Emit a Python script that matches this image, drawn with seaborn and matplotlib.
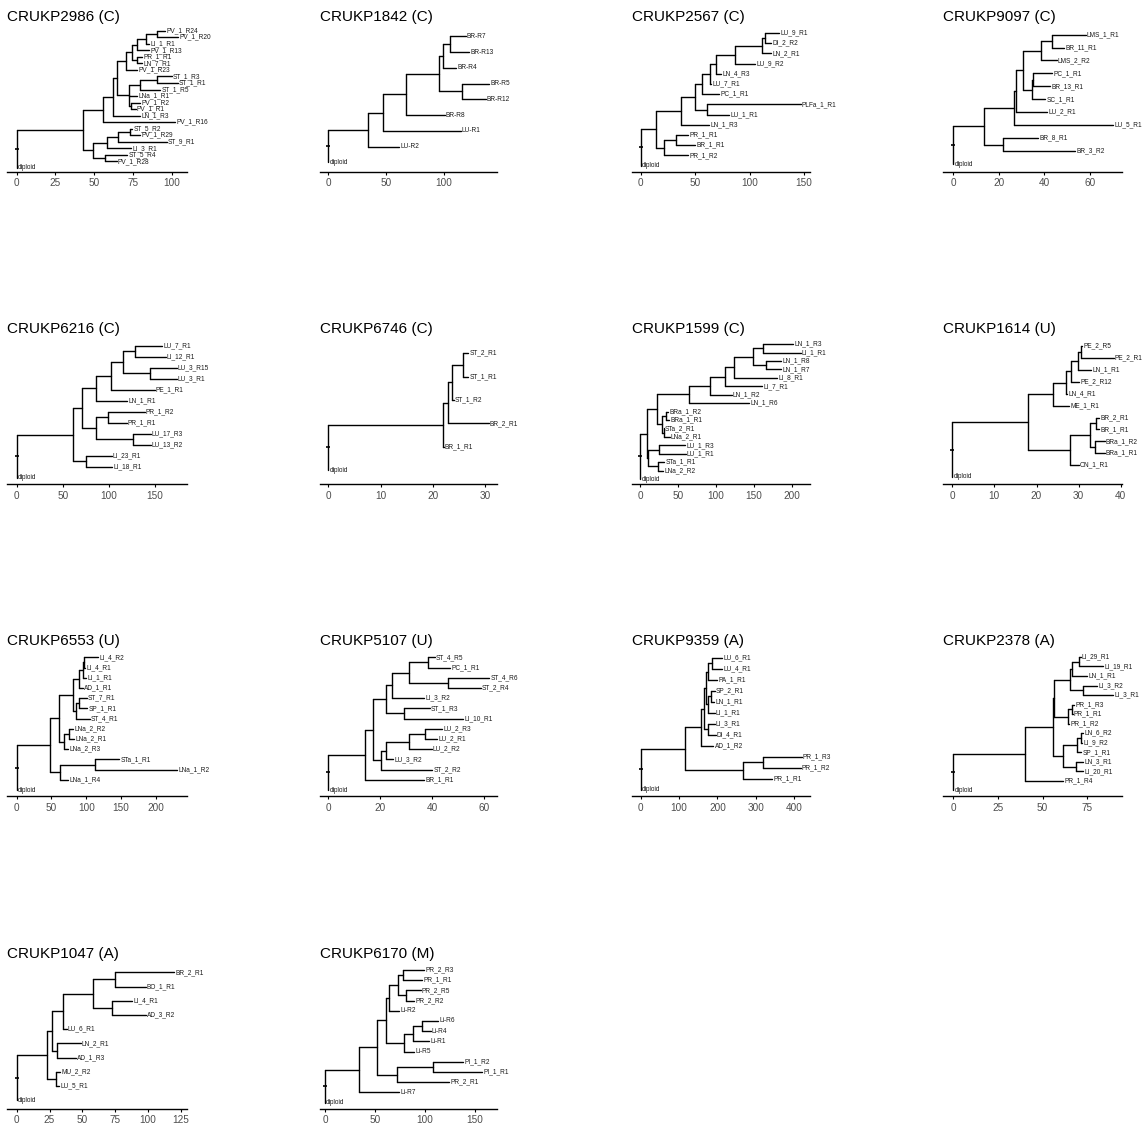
import numpy as np
import pandas as pd
import matplotlib
matplotlib.use("Agg")
import matplotlib.pyplot as plt
from matplotlib.ticker import MultipleLocator
import seaborn as sns

# Patient trees in Newick form; the number after ':' is the node depth
# (cumulative distance from the root), children listed top to bottom.
PATIENTS = [
    "CRUKP2986 (C)", "CRUKP1842 (C)", "CRUKP2567 (C)", "CRUKP9097 (C)",
    "CRUKP6216 (C)", "CRUKP6746 (C)", "CRUKP1599 (C)", "CRUKP1614 (U)",
    "CRUKP6553 (U)", "CRUKP5107 (U)", "CRUKP9359 (A)", "CRUKP2378 (A)",
    "CRUKP1047 (A)", "CRUKP6170 (M)",
]

TREE_2986 = ("((((((((((PV_1_R24:95.7,PV_1_R20:104):90.5,LI_1_R1:85.5):83.3,PV_1_R13:85.5):77.4,"
             "(PR_1_R1:80.9,LN_7_R1:80.9):77.4):74.2,PV_1_R23:77.6):70.5,(((ST_1_R3:100,ST_1_R1:104):90.3,"
             "ST_1_R5:92.7):79.5,LNa_1_R1:77.8,(PV_1_R2:79.5,PV_1_R1:76.8):73.5):72.7):64.9,LN_1_R3:79.6):62.3,"
             "PV_1_R16:102):55.9,((((ST_5_R2:74.5,PV_1_R29:79.6):73.1,ST_9_R1:96.8):65.5,LI_3_R1:74):58,"
             "(ST_5_R4:71.4,PV_1_R28:64.5):57):49.4):43,diploid:0):0")
TREE_1842 = ("(((((((BR-R7:118.7,BR-R13:121.9):105.5,BR-R4:110.7):98.8,(BR-R5:138.9,BR-R12:136):115.3):95.7,"
             "BR-R8:100.6):67.1,LU-R1:114.4):47,LU-R2:61.1):34.6,diploid:0):0")
TREE_2567 = ("((((((((((LU_9_R1:127,DI_2_R2:119.7):114,LN_2_R1:119.7):111,LU_9_R2:105):86.6,LN_4_R3:74):68.9,"
             "LU_7_R1:64.5):63.7,PC_1_R1:72):56,(PLFa_1_R1:147,LU_1_R1:81.4):61.2):49.9,LN_1_R3:63):37,"
             "((PR_1_R1:43.8,BR_1_R1:50.2):32.1,PR_1_R2:43.8):21.4):14.1,diploid:0):0")
TREE_9097 = ("(((((((LMS_1_R1:58.2,BR_11_R1:48.7):43.3,LMS_2_R2:45.5):38.6,((PC_1_R1:43.6,BR_13_R1:42.6):35,"
             "SC_1_R1:40.4):34.5):30.6,LU_2_R1:41.4):27.7,LU_5_R1:70.4):26.8,(BR_8_R1:37.5,BR_3_R2:53.6):21.8):13.8,"
             "diploid:0):0")
TREE_6216 = ("(((((((LU_7_R1:158,LI_12_R1:161.5):128.3,(LU_3_R15:173.5,LU_3_R1:173.5):144.6):115.6,PE_1_R1:149.6):102.3,"
             "LN_1_R1:120):86,((PR_1_R2:138.8,PR_1_R1:119.3):98.7,(LU_17_R3:145.3,LU_13_R2:145.3):126.5):85.7):70.5,"
             "(LI_23_R1:103,LI_18_R1:103.7):75.2):60.7,diploid:0):0")
TREE_6746 = "(((((ST_2_R1:26.7,ST_1_R1:26.7):25.7,ST_1_R2:23.9):23.7,BR_2_R1:30.6):22.9,BR_1_R1:22):21.8,diploid:0):0"
TREE_1599 = ("(((((((((LN_1_R3:202,LI_1_R1:212):162.6,(LN_1_R8:186,LN_1_R7:186):165.7):148.6,LI_8_R1:181):124.4,"
             "LI_7_R1:161):112,LN_1_R2:121):92.3,LN_1_R6:143.7):65,((BRa_1_R2:37.4,BRa_1_R1:38.2):33.8,"
             "(STa_2_R1:30.3,LNa_2_R1:39):31.6):28.6):22,((LU_1_R3:59.3,LU_1_R1:60.2):25.5,"
             "(STa_1_R1:31.6,LNa_2_R2:30.3):23.3):10.5):9.5,diploid:0):0")
TREE_1614 = ("(((((((PE_2_R5:30.8,PE_2_R1:38.3):30.5,LN_1_R1:32.9):29.9,PE_2_R12:30.2):28.1,LN_4_R1:27.2):26.9,"
             "ME_1_R1:27.8):23.9,(((BR_2_R1:34.9,BR_1_R1:34.9):34.2,(BRa_1_R2:36.2,BRa_1_R1:36.2):34):32.8,"
             "ON_1_R1:30):27.9):17.9,diploid:0):0")
TREE_6553 = ("(((((((LI_4_R2:117,LI_4_R1:98.3):96.9,LI_1_R1:100.2):95,AD_1_R1:95.4):89.7,((ST_7_R1:100.7,"
             "SP_1_R1:101.7):89.2,ST_4_R1:105):85.4):80.6,((LNa_2_R2:81,LNa_2_R1:82.5):75.3,LNa_2_R3:73.9):68):61.4,"
             "((STa_1_R1:147.2,LNa_1_R2:231):112.7,LNa_1_R4:74.3):62.4):48,diploid:0):0")
TREE_5107 = ("(((((((ST_4_R5:41,PC_1_R1:46.9):38.3,(ST_4_R6:62,ST_2_R4:58.7):46.3):31.2,LI_3_R2:36.9):24.4,"
             "(ST_1_R3:39,LI_10_R1:51.9):29.2):22.1,((((LU_2_R3:43.9,LU_2_R1:42):37.3,LU_2_R2:39.8):31.2,"
             "LU_3_R2:24.9):22.1,ST_2_R2:40.1):20.2):17.1,BR_1_R1:36.9):14.1,diploid:0):0")
TREE_9359 = ("(((((((LU_6_R1:212.6,LU_4_R1:212.6):184.8,PA_1_R1:199.6):176,((SP_2_R1:192.6,LN_1_R1:190.9):183,"
             "LI_1_R1:192.6):176):170,(LI_3_R1:192.6,DI_4_R1:195.2):176):164.9,AD_1_R2:189.2):157,"
             "((PR_1_R3:419,PR_1_R2:416.5):319.3,PR_1_R1:342.7):267.2):115.4,diploid:0):0")
TREE_2378 = ("(((((((LI_29_R1:71.2,LI_19_R1:83.8):70.3,LN_1_R1:75):66.2,(LI_3_R2:80.6,LI_3_R1:89.6):72.8):65.3,"
             "((PR_1_R3:67.6,PR_1_R1:66.8):66.6,PR_1_R2:65):64):56.3,(((LN_6_R2:72.6,LI_9_R2:72.2):71.5,"
             "SP_1_R1:71.6):69.4,(LN_3_R1:72.6,LI_20_R1:72.6):68.5):61.2):55.5,PR_1_R4:61.6):40.1,diploid:0):0")
TREE_1047 = ("((((((BR_2_R1:120,BO_1_R1:98.3):75,(LI_4_R1:87.7,AD_3_R2:98.3):72.9):57.9,LU_6_R1:38.1):35.6,"
             "(LN_2_R1:48.8,AD_1_R3:45):31):26.7,(MU_2_R2:33,LU_5_R1:32.3):30):22.9,diploid:0):0")
TREE_6170 = ("(((((((PR_2_R3:99,PR_1_R1:97.3):78.3,(PR_2_R5:95.7,PR_2_R2:89):81):73.3,Li-R2:74):64,"
             "(((Li-R6:113.3,Li-R4:105.7):96.7,Li-R1:104):88.3,Li-R5:89):79.3):60.7,((PI_1_R2:138.3,"
             "PI_1_R1:157.3):108.3,PR_2_R1:124):71.7):51.7,Li-R7:74):34,diploid:0):0")

TREES = [TREE_2986, TREE_1842, TREE_2567, TREE_9097, TREE_6216, TREE_6746, TREE_1599,
         TREE_1614, TREE_6553, TREE_5107, TREE_9359, TREE_2378, TREE_1047, TREE_6170]

TICK_STEPS = [25, 50, 50, 20, 50, 10, 50, 10, 50, 20, 100, 25, 25, 50]
X_LIMITS = [(-6.3, 109.9), (-7.2, 145.8), (-8.0, 155.5), (-4.4, 74.2),
            (-10.5, 184.7), (-1.6, 32.2), (-10.6, 224.3), (-2.2, 40.3),
            (-14.0, 245.0), (-3.2, 65.0), (-22.7, 441.0), (-5.8, 94.4),
            (-7.4, 129.8), (-5.0, 172.0)]


def parse_newick(text):
    s = "".join(text.split()).rstrip(";")
    pos = 0

    def node():
        nonlocal pos
        children = []
        if s[pos] == "(":
            pos += 1
            children.append(node())
            while s[pos] == ",":
                pos += 1
                children.append(node())
            assert s[pos] == ")"
            pos += 1
        start = pos
        while pos < len(s) and s[pos] not in ":,()":
            pos += 1
        name = s[start:pos]
        depth = 0.0
        if pos < len(s) and s[pos] == ":":
            pos += 1
            start = pos
            while pos < len(s) and s[pos] not in ",()":
                pos += 1
            depth = float(s[start:pos])
        return {"name": name, "x": depth, "children": children}

    root = node()
    assert pos == len(s)
    return root


def layout(root):
    leaves = []

    def collect(n):
        if not n["children"]:
            leaves.append(n)
        for c in n["children"]:
            collect(c)

    collect(root)
    n_leaf = len(leaves)
    for i, lf in enumerate(leaves):
        lf["y"] = float(n_leaf - i)

    def set_y(n):
        if n["children"]:
            for c in n["children"]:
                set_y(c)
            n["y"] = float(np.mean([c["y"] for c in n["children"]]))

    set_y(root)
    rows = []
    seg = 0

    def walk(n):
        nonlocal seg
        if not n["children"]:
            return
        ys = [c["y"] for c in n["children"]]
        rows.extend([(seg, n["x"], min(ys)), (seg, n["x"], max(ys))])
        seg += 1
        for c in n["children"]:
            if c["x"] > n["x"]:
                rows.extend([(seg, n["x"], c["y"]), (seg, c["x"], c["y"])])
                seg += 1
            walk(c)

    walk(root)
    return pd.DataFrame(rows, columns=["seg", "x", "y"]), leaves, n_leaf


sns.set_theme(style="white")
plt.rcParams["font.family"] = ["Liberation Sans", "DejaVu Sans"]

W, H = 1146, 1126
fig = plt.figure(figsize=(W / 100, H / 100), dpi=100)

col_boxes = [(7, 187), (320, 497), (632, 810), (943, 1122)]
row_tops = [26.8, 339.1, 651.2, 963.8]
panel_h = 145

for k, (title, tree_text) in enumerate(zip(PATIENTS, TREES)):
    r, c = divmod(k, 4)
    x0, x1 = col_boxes[c]
    top = row_tops[r]
    ax = fig.add_axes([x0 / W, 1 - (top + panel_h) / H, (x1 - x0) / W, panel_h / H])

    root = parse_newick(tree_text)
    segs, leaves, n_leaf = layout(root)

    sns.lineplot(data=segs, x="x", y="y", units="seg", estimator=None, sort=False,
                 color="black", linewidth=1.0, ax=ax, legend=False)
    ax.plot([0], [root["y"]], marker="_", ms=2.5, mew=1.2, color="black")

    for lf in leaves:
        ax.annotate(lf["name"], xy=(lf["x"], lf["y"]), xytext=(0.9, 0),
                    textcoords="offset points", ha="left", va="center",
                    fontsize=4.7, color="#1a1a1a", annotation_clip=False)

    ax.set_xlim(*X_LIMITS[k])
    ax.set_ylim(0.4, n_leaf + 0.6)
    ax.xaxis.set_major_locator(MultipleLocator(TICK_STEPS[k]))
    ax.set_yticks([])
    ax.set_xlabel("")
    ax.set_ylabel("")
    for side in ("top", "right", "left"):
        ax.spines[side].set_visible(False)
    ax.spines["bottom"].set_color("black")
    ax.spines["bottom"].set_linewidth(1.0)
    ax.tick_params(axis="x", bottom=True, length=2.2, width=0.8, color="black",
                   pad=2.5, labelsize=7.2, labelcolor="#4d4d4d")
    ax.set_title(title, loc="left", fontsize=11, pad=4.4, color="black")
    ax.patch.set_alpha(0)

fig.savefig("out.png", dpi=100, facecolor="white")
